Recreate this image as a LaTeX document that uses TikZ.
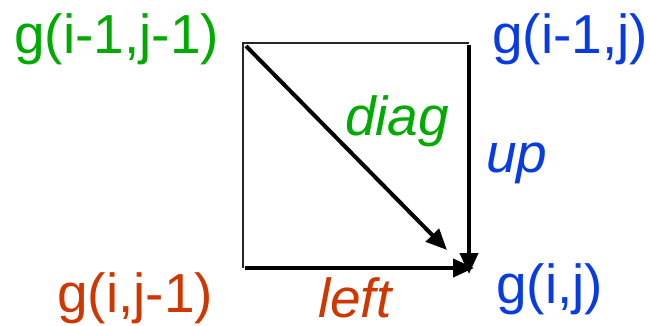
\documentclass[tikz,border=0pt]{standalone}
\usepackage{fontspec}
\setmainfont{Liberation Sans}
\usetikzlibrary{arrows.meta}
\definecolor{cgreen}{RGB}{0,170,0}
\definecolor{cblue}{RGB}{8,60,225}
\definecolor{cred}{RGB}{205,55,0}
\tikzset{
  lbl/.style={anchor=base west, inner sep=0pt, font=\fontsize{55}{60}\selectfont},
  ilbl/.style={lbl, font=\fontsize{55}{60}\selectfont\itshape},
  thinedge/.style={line width=1.5pt, black!85},
  thickarrow/.style={line width=4pt, -{Triangle[length=21pt,width=18pt]}},
}
\begin{document}
\begin{tikzpicture}[x=1pt,y=-1pt]
\useasboundingbox (0,0) rectangle (650,325);
\coordinate (tl) at (243,43);
\coordinate (tr) at (469,43);
\coordinate (bl) at (243,268);
\coordinate (br) at (469,268);
\coordinate (dstart) at (246,46);
\coordinate (dend) at (447,250);
\coordinate (lstart) at (245,268);
\coordinate (lend) at (474,268);
\coordinate (ustart) at (469,45);
\coordinate (uend) at (469,274);
\draw[thinedge] (tr) -- (tl) -- (bl);
\draw[thickarrow] (dstart) -- (dend);
\draw[thickarrow] (ustart) -- (uend);
\draw[thickarrow] (lstart) -- (lend);
\node[lbl, text=cgreen] (n00) at (14,53) {g(i-1,j-1)};
\node[lbl, text=cblue] (n01) at (492,53) {g(i-1,j)};
\node[lbl, text=cred] (n10) at (57,312) {g(i,j-1)};
\node[lbl, text=cblue] (n11) at (496,303) {g(i,j)};
\node[ilbl, text=cgreen] (diag) at (345,135) {diag};
\node[ilbl, text=cblue] (up) at (486,172) {up};
\node[ilbl, text=cred, text depth=0pt] (left) at (318,317) {left};
\end{tikzpicture}
\end{document}
